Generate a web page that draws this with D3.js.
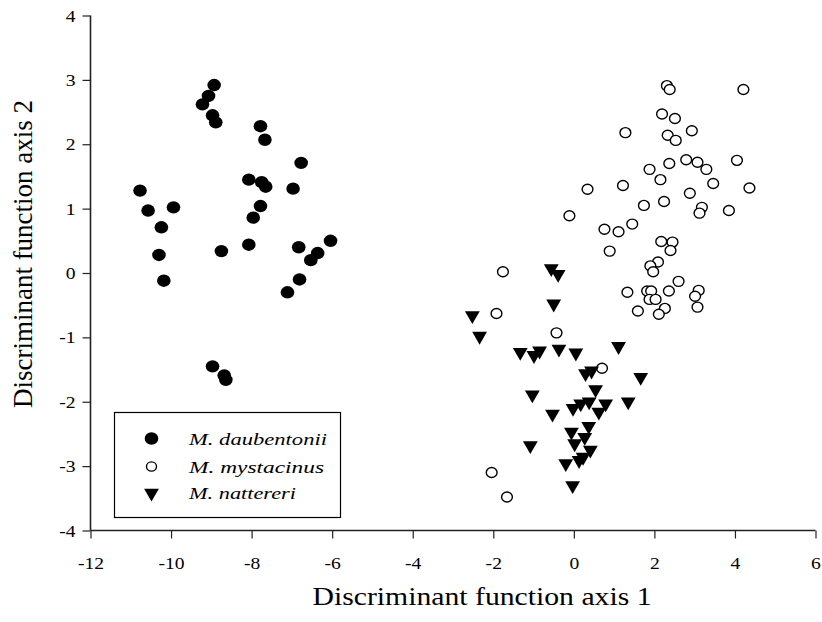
<!DOCTYPE html>
<html>
<head>
<meta charset="utf-8">
<script src="https://cdn.jsdelivr.net/npm/d3@7"></script>
<style>
  body { margin: 0; background: #fff; }
  text { font-family: "Liberation Serif", "Times New Roman", serif; fill: #000; }
</style>
</head>
<body>
<svg width="822" height="622"></svg>
<script>
// species
var species = ["M. daubentonii", "M. mystacinus", "M. nattereri"];

// M. daubentonii (filled circles)
var daubX = [-10.77, -10.57, -9.94, -10.24, -10.30, -10.18, -8.93, -9.07, -9.22, -8.97, -8.89,
  -7.78, -7.67, -6.77, -8.07, -7.75, -7.65, -6.97, -7.78, -7.96, -8.75, -8.07, -6.83, -6.04,
  -6.36, -6.53, -6.81, -7.11, -8.97, -8.68, -8.64];
var daubY = [1.28, 0.97, 1.02, 0.71, 0.28, -0.12, 2.92, 2.75, 2.62, 2.45, 2.34,
  2.28, 2.07, 1.71, 1.45, 1.41, 1.34, 1.31, 1.04, 0.86, 0.34, 0.44, 0.40, 0.50,
  0.31, 0.20, -0.10, -0.30, -1.45, -1.59, -1.66];

// M. mystacinus (open circles)
var mystX = [2.31, 2.38, 4.21, 2.19, 2.51, 1.28, 2.33, 2.53, 2.93, 2.37, 2.79, 3.07, 3.29, 1.88,
  2.15, 4.05, 3.46, 4.36, 2.88, 0.34, 1.22, 1.74, 2.24, 3.18, 3.12, 3.85, -0.11, 0.76, 1.11,
  1.45, 0.89, 2.17, 2.45, 2.40, 2.09, 1.90, 1.97, 2.60, 1.33, 1.82, 1.92, 1.88, 2.03, 2.36,
  3.10, 3.01, 3.07, 2.26, 2.11, 1.59, -1.76, -1.92, -0.43, 0.70, -2.04, -1.66];
var mystY = [2.91, 2.85, 2.85, 2.47, 2.40, 2.18, 2.14, 2.06, 2.21, 1.70, 1.76, 1.72, 1.61, 1.61,
  1.45, 1.75, 1.39, 1.32, 1.24, 1.30, 1.36, 1.05, 1.11, 1.02, 0.93, 0.97, 0.89, 0.68, 0.64,
  0.76, 0.34, 0.49, 0.48, 0.35, 0.17, 0.11, 0.02, -0.13, -0.30, -0.28, -0.28, -0.41, -0.41, -0.28,
  -0.27, -0.36, -0.53, -0.55, -0.64, -0.59, 0.02, -0.63, -0.93, -1.48, -3.10, -3.48];

// M. nattereri (down triangles)
var nattX = [-0.56, -0.39, -0.50, -2.52, -2.34, -1.33, -0.99, -0.85, -0.37, 0.05, 1.11, 0.29,
  0.44, 1.66, -1.03, 0.54, -0.02, 0.17, 0.38, 0.62, 0.79, 1.35, -0.53, -0.06, 0.37, 0.27,
  0.02, -1.08, 0.41, 0.23, 0.13, -0.20, -0.03];
var nattY = [0.07, -0.02, -0.48, -0.66, -0.98, -1.23, -1.28, -1.21, -1.18, -1.24, -1.14, -1.56,
  -1.52, -1.62, -1.89, -1.81, -2.10, -2.03, -2.00, -2.16, -2.03, -2.00, -2.19, -2.47, -2.38, -2.55,
  -2.65, -2.68, -2.75, -2.86, -2.91, -2.96, -3.30];

var xTicks = [-12, -10, -8, -6, -4, -2, 0, 2, 4, 6];
var yTicks = [-4, -3, -2, -1, 0, 1, 2, 3, 4];

var svg = d3.select("svg");

var x = d3.scaleLinear().domain([-12, 6]).range([90.5, 815.5]);
var y = d3.scaleLinear().domain([-4, 4]).range([530.5, 15.5]);

var fmt = function(d) { return String(d); };   // plain hyphen minus like the original
var sx = 1.12;                                   // original lettering is a bit wide

var xAxis = svg.append("g")
  .attr("transform", "translate(0," + y(-4) + ")")
  .call(d3.axisBottom(x).tickValues(xTicks).tickSize(8).tickPadding(18).tickFormat(fmt));

var yAxis = svg.append("g")
  .attr("transform", "translate(" + x(-12) + ",0)")
  .call(d3.axisLeft(y).tickValues(yTicks).tickSize(8).tickPadding(7).tickFormat(fmt));

[xAxis, yAxis].forEach(function(a) {
  a.select(".domain").attr("stroke", "#222").attr("stroke-width", 1.6);
  a.selectAll(".tick line").attr("stroke", "#222").attr("stroke-width", 1.2);
  a.selectAll(".tick text").attr("fill", "#000").style("font-size", "17.5px")
    .style("font-family", "'Liberation Serif', 'Times New Roman', serif");
});
xAxis.selectAll(".tick text").attr("transform", "scale(" + sx + ",1)");
yAxis.selectAll(".tick text")
  .attr("x", -15 / sx)
  .attr("transform", "scale(" + sx + ",1)");
// no outer tick ends on the domain path
xAxis.select(".domain").attr("d", "M" + x(-12) + ",0H" + x(6));
yAxis.select(".domain").attr("d", "M0," + y(-4) + "V" + y(4));

// axis titles
svg.append("text")
  .attr("x", 482).attr("y", 605)
  .attr("text-anchor", "middle")
  .attr("textLength", 339).attr("lengthAdjust", "spacingAndGlyphs")
  .style("font-size", "26px")
  .text("Discriminant function axis 1");

svg.append("text")
  .attr("transform", "translate(32,254) rotate(-90)")
  .attr("text-anchor", "middle")
  .attr("textLength", 308).attr("lengthAdjust", "spacingAndGlyphs")
  .style("font-size", "28px")
  .text("Discriminant function axis 2");

var tri = d3.symbol().type(d3.symbolTriangle).size(95);

// points
var g = svg.append("g");

g.selectAll(".daub")
  .data(daubX.map(function(d, i) { return [d, daubY[i]]; }))
  .enter().append("ellipse")
  .attr("cx", function(d) { return x(d[0]); })
  .attr("cy", function(d) { return y(d[1]); })
  .attr("rx", 6.8).attr("ry", 6.2)
  .attr("fill", "#000");

g.selectAll(".myst")
  .data(mystX.map(function(d, i) { return [d, mystY[i]]; }))
  .enter().append("ellipse")
  .attr("cx", function(d) { return x(d[0]); })
  .attr("cy", function(d) { return y(d[1]); })
  .attr("rx", 5.4).attr("ry", 5)
  .attr("fill", "#fff")
  .attr("stroke", "#000")
  .attr("stroke-width", 1.4);

g.selectAll(".natt")
  .data(nattX.map(function(d, i) { return [d, nattY[i]]; }))
  .enter().append("path")
  .attr("d", tri)
  .attr("transform", function(d) { return "translate(" + x(d[0]) + "," + y(d[1]) + ") rotate(180)"; })
  .attr("fill", "#000");

// legend
var leg = svg.append("g");
leg.append("rect")
  .attr("x", 114.5).attr("y", 412.5)
  .attr("width", 226).attr("height", 105)
  .attr("fill", "#fff").attr("stroke", "#000").attr("stroke-width", 1.2);

var rows = [438.5, 466.5, 493];
leg.append("ellipse").attr("cx", 151.5).attr("cy", rows[0]).attr("rx", 6.8).attr("ry", 6.2).attr("fill", "#000");
leg.append("ellipse").attr("cx", 151.5).attr("cy", rows[1]).attr("rx", 5).attr("ry", 4.6)
  .attr("fill", "#fff").attr("stroke", "#000").attr("stroke-width", 1.4);
leg.append("path").attr("d", tri)
  .attr("transform", "translate(151.5," + rows[2] + ") rotate(180)").attr("fill", "#000");

var legW = [138, 135, 107];
leg.selectAll(".lt")
  .data(species)
  .enter().append("text")
  .attr("x", 189)
  .attr("y", function(d, i) { return rows[i] + 6; })
  .attr("textLength", function(d, i) { return legW[i]; })
  .attr("lengthAdjust", "spacingAndGlyphs")
  .style("font-size", "17px")
  .style("font-style", "italic")
  .text(function(d) { return d; });
</script>
</body>
</html>
